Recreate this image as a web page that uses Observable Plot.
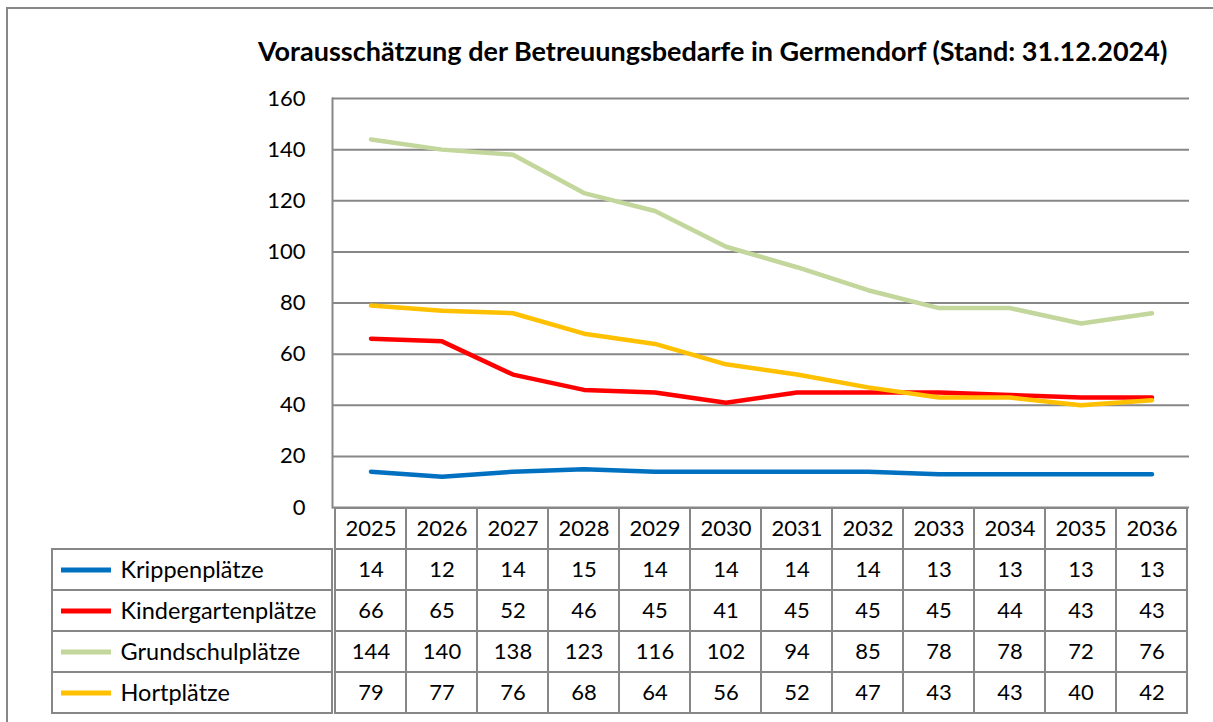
<!DOCTYPE html>
<html><head><meta charset="utf-8">
<script src="https://cdn.jsdelivr.net/npm/d3@7"></script>
<script src="https://cdn.jsdelivr.net/npm/@observablehq/plot@0.6"></script>
<style>
html,body{margin:0;padding:0;background:#fff;}
body{width:1213px;height:722px;overflow:hidden;position:relative;font-family:Lato,sans-serif;color:#000;}
#frame{position:absolute;left:6px;top:7px;width:1300px;height:800px;border:2px solid #878787;box-sizing:border-box;}
#title{position:absolute;left:258px;top:35px;font-weight:bold;font-size:27px;white-space:nowrap;color:#000;line-height:1.2;}
.abs{position:absolute;}
svg{overflow:visible;}
</style></head><body>
<div id="frame"></div>
<div id="title">Vorausschätzung der Betreuungsbedarfe in Germendorf (Stand: 31.12.2024)</div>
<div id="chart" class="abs" style="left:0;top:0"></div>
<div id="table" class="abs" style="left:0;top:507px"></div>
<div id="legend" class="abs" style="left:52px;top:507px"></div>
<script>
const years = ["2025","2026","2027","2028","2029","2030","2031","2032","2033","2034","2035","2036"];
const seriesNames = ["Krippenplätze","Kindergartenplätze","Grundschulplätze","Hortplätze"];
const seriesColors = ["#0070C0","#FF0000","#C3D69B","#FFC000"];
const krippen      = [14,12,14,15,14,14,14,14,13,13,13,13];
const kindergarten = [66,65,52,46,45,41,45,45,45,44,43,43];
const grundschule  = [144,140,138,123,116,102,94,85,78,78,72,76];
const hort         = [79,77,76,68,64,56,52,47,43,43,40,42];
const yTicks = [0,20,40,60,80,100,120,140,160];

const seriesValues = [krippen, kindergarten, grundschule, hort];
const rows = [];
seriesNames.forEach((s, k) => years.forEach((yr, i) => rows.push({series: s, year: yr, value: seriesValues[k][i]})));
const grid = "#878787";
const font = {fontFamily: "Lato, sans-serif", fontSize: "22px", color: "#000", background: "transparent", overflow: "visible"};
const colorScale = {domain: seriesNames, range: seriesColors};

const chart = Plot.plot({
  width: 1213, height: 520,
  marginLeft: 332, marginRight: 24, marginTop: 98, marginBottom: 13,
  style: font,
  x: {type: "band", domain: years, padding: 0, axis: null},
  y: {domain: [0, 160], axis: null},
  color: colorScale,
  marks: [
    Plot.ruleY(yTicks, {stroke: grid, strokeWidth: 2}),
    Plot.frame({anchor: "left", stroke: grid, strokeWidth: 2}),
    Plot.axisY(yTicks, {tickSize: 0, tickPadding: 27, fill: "#000", label: null}),
    Plot.lineY(rows, {x: "year", y: "value", z: "series", stroke: "series", strokeWidth: 4.5, strokeLinejoin: "round"})
  ]
});
document.getElementById("chart").append(chart);

const headKey = "";
const tableRows = [headKey, ...seriesNames];
const table = Plot.plot({
  width: 1213, height: 215,
  marginLeft: 332, marginRight: 24, marginTop: 0, marginBottom: 9,
  style: font,
  x: {type: "band", domain: years, padding: 0, axis: null},
  y: {type: "band", domain: tableRows, padding: 0, axis: null},
  marks: [
    Plot.cell(years, {x: d => d, y: () => headKey, fill: "none", stroke: grid, strokeWidth: 2}),
    Plot.cell(rows, {x: "year", y: "series", fill: "none", stroke: grid, strokeWidth: 2}),
    Plot.text(years, {x: d => d, y: () => headKey, text: d => d, fill: "#000"}),
    Plot.text(rows, {x: "year", y: "series", text: "value", fill: "#000"})
  ]
});
document.getElementById("table").append(table);

const legend = Plot.plot({
  width: 280, height: 215,
  marginLeft: 0, marginRight: 0, marginTop: 0, marginBottom: 9,
  style: font,
  y: {type: "band", domain: tableRows, padding: 0, axis: null},
  color: colorScale,
  marks: [
    Plot.cell(seriesNames, {y: d => d, fill: "none", stroke: grid, strokeWidth: 2}),
    Plot.ruleY(seriesNames, {y: d => d, stroke: d => d, strokeWidth: 5, insetLeft: 9, insetRight: 221}),
    Plot.text(seriesNames, {y: d => d, text: d => d, frameAnchor: "left", dx: 68, textAnchor: "start", fill: "#000", fontSize: 23.5})
  ]
});
document.getElementById("legend").append(legend);
</script>
</body></html>
